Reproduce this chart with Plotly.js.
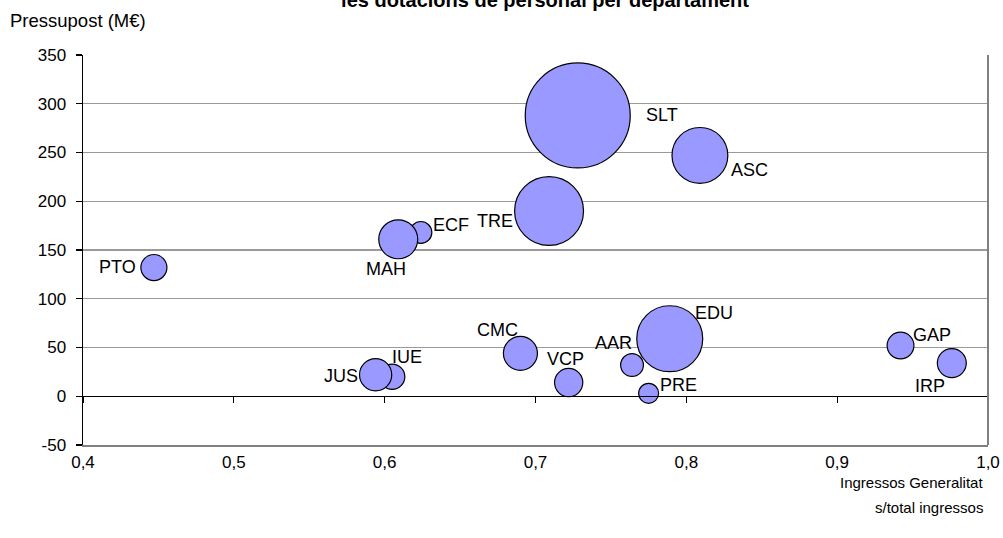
<!DOCTYPE html>
<html>
<head>
<meta charset="utf-8">
<script src="https://cdn.plot.ly/plotly-3.0.1.min.js"></script>
<style>html,body{margin:0;padding:0;background:#fff;}#chart{width:1003px;height:538px;}</style>
</head>
<body>
<div id="chart"></div>
<script>
// ---- data ----
const departaments = ['SLT','ASC','TRE','ECF','MAH','PTO','IUE','JUS','CMC','VCP','AAR','PRE','EDU','GAP','IRP'];
const ingressosRatio = [0.728,0.809,0.709,0.624,0.609,0.447,0.605,0.594,0.690,0.722,0.764,0.775,0.789,0.942,0.976];
const pressupost = [288,247,190,168,161,132,20,22,44,14,32,3,59,52,34];
const personal = [276,78,119,12,38,17,16,26,29,20,13,10,109,18,21];
const yTickVals = [-50,0,50,100,150,200,250,300,350];
const yTickText = ['-50','0','50','100','150','200','250','300','350'];
const xTickVals = [0.4,0.5,0.6,0.7,0.8,0.9,1.0];
const xTickText = ['0,4','0,5','0,6','0,7','0,8','0,9','1,0'];

// label offsets (pixels) relative to each bubble
const labelShift = {
  SLT:[84,0], ASC:[50,-15], TRE:[-54,-10], ECF:[30,7], MAH:[-12,-30],
  PTO:[-36,1], IUE:[15,20], JUS:[-35,-1], CMC:[-23,23], VCP:[-3,24],
  AAR:[-19,22], PRE:[30,8], EDU:[44,26], GAP:[31,11], IRP:[-22,-23]
};

const FONT = 'Liberation Sans, Arial, sans-serif';
const maxDiam = 105;

const trace = {
  type: 'scatter', mode: 'markers',
  x: ingressosRatio, y: pressupost, text: departaments,
  marker: {
    size: personal, sizemode: 'area',
    sizeref: 2 * Math.max(...personal) / (maxDiam * maxDiam),
    color: '#9999ff', line: {color: '#000000', width: 1.2}, opacity: 1
  },
  hoverinfo: 'text+x+y', showlegend: false
};
const axisTrace = {type:'scatter', mode:'markers', x: [], y: [], xaxis:'x2', yaxis:'y', showlegend:false, hoverinfo:'skip'};

const annotations = departaments.map((d, i) => ({
  x: ingressosRatio[i], y: pressupost[i], xref:'x', yref:'y',
  text: d, showarrow:false, xanchor:'center', yanchor:'middle',
  xshift: labelShift[d][0], yshift: labelShift[d][1],
  font: {family: FONT, size: 18, color:'#000'}
}));
annotations.push({
  xref:'paper', yref:'paper', x:0, y:1, xanchor:'left', yanchor:'middle',
  xshift:-75, yshift:35, text:'Pressupost (M€)', showarrow:false,
  font:{family:FONT, size:18.5, color:'#000'}
});
annotations.push({
  xref:'paper', yref:'paper', x:1, y:0, xanchor:'right', yanchor:'middle',
  xshift:-3, yshift:-37, text:'Ingressos Generalitat', showarrow:false,
  font:{family:FONT, size:15, color:'#000'}
});
annotations.push({
  xref:'paper', yref:'paper', x:1, y:0, xanchor:'right', yanchor:'middle',
  xshift:-3, yshift:-62, text:'s/total ingressos', showarrow:false,
  font:{family:FONT, size:15, color:'#000'}
});

const layout = {
  width: 1003, height: 538,
  margin: {l:83, r:15, t:55, b:93},
  paper_bgcolor:'#ffffff', plot_bgcolor:'#ffffff',
  separators: ',.',
  font: {family: FONT, size: 17, color: '#000'},
  title: {
    text: '<b>les dotacions de personal per departament</b>',
    xref:'container', yref:'container', x: 0.5434, y: 1, xanchor:'center', yanchor:'middle',
    font: {family: FONT, size: 20, color:'#000'}
  },
  xaxis: {
    range:[0.4,1.0], tickvals: xTickVals, ticktext: xTickText,
    showgrid:false, zeroline:false, showline:true, linecolor:'#808080', linewidth:1.5,
    ticks:'', ticklabelstandoff: 1, automargin:false,
    tickfont:{family:FONT, size:17, color:'#000'}
  },
  xaxis2: {
    overlaying:'x', matches:'x', anchor:'free', position: 0.125, side:'bottom',
    range:[0.4,1.0], tickvals: xTickVals, showticklabels:false,
    showgrid:false, zeroline:false, showline:true, linecolor:'#000', linewidth:1.2,
    ticks:'outside', ticklen:6, tickcolor:'#000', tickwidth:1.2, automargin:false
  },
  yaxis: {
    range:[-50,350], tickvals: yTickVals, ticktext: yTickText,
    showgrid:true, gridcolor:'#9a9a9a', gridwidth:1.2, zeroline:false,
    showline:true, linecolor:'#000', linewidth:1.5,
    ticks:'outside', ticklen:6, tickcolor:'#000', tickwidth:1.2,
    ticklabelstandoff: 6, automargin:false,
    tickfont:{family:FONT, size:17, color:'#000'}
  },
  shapes: [{type:'line', xref:'paper', yref:'paper', x0:1, x1:1, y0:0, y1:1, line:{color:'#808080', width:2}}],
  annotations: annotations,
  hovermode: 'closest'
};

Plotly.newPlot('chart', [axisTrace, trace], layout, {displayModeBar:false, staticPlot:true});
</script>
</body>
</html>
